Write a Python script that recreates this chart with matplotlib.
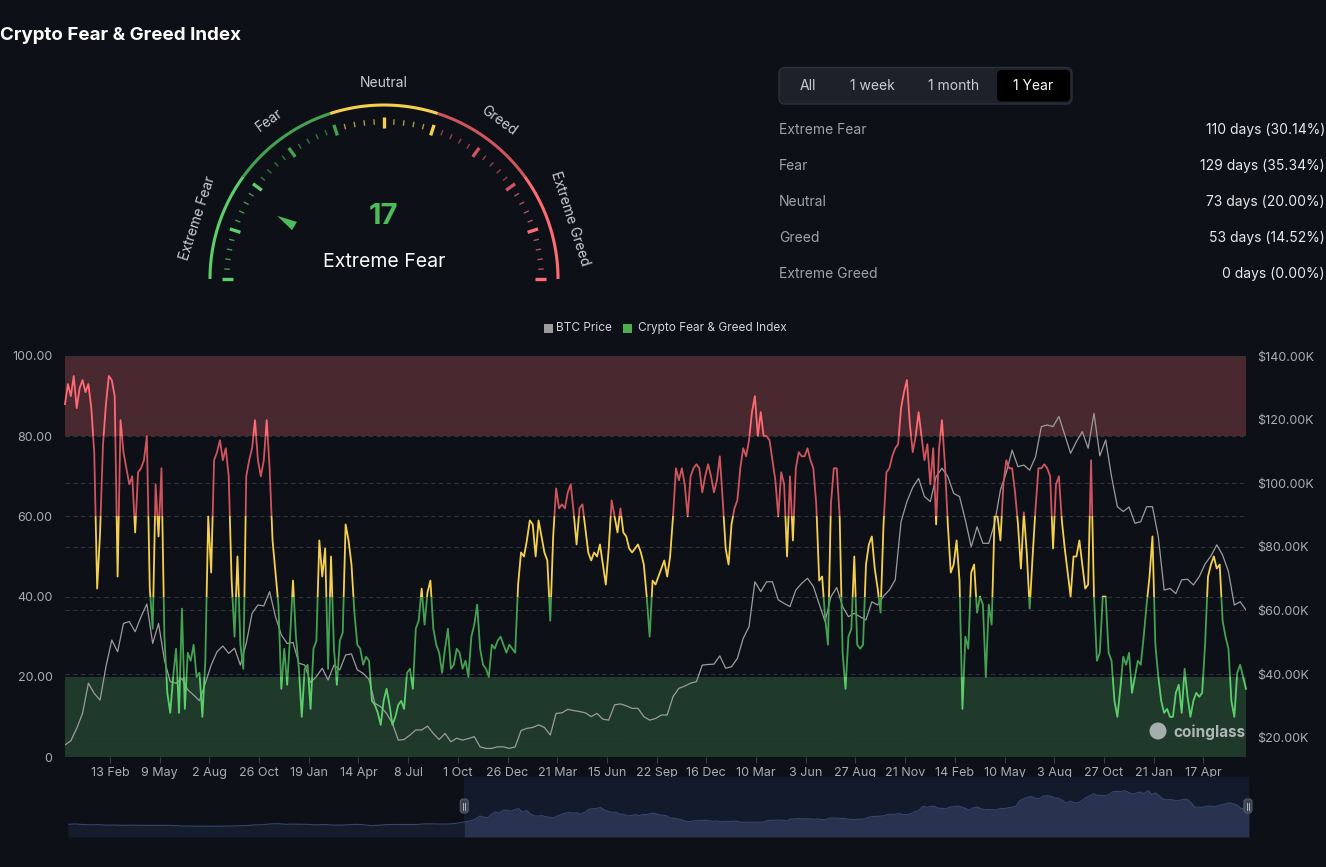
import numpy as np
import matplotlib.pyplot as plt
from matplotlib.patches import FancyBboxPatch, Rectangle, Polygon, Circle

plt.rcParams['font.family'] = ['Inter', 'DejaVu Sans']

BG = '#0d1017'

# ---- values ----
# fear & greed index, one point every 5 days from the left edge of the plot
fng_index = [88, 93, 90, 95, 87, 92, 94, 91, 93, 87, 76, 42, 56, 78, 88, 95, 94, 90, 45, 84,
             76, 72, 68, 70, 56, 71, 72, 74, 80, 42, 32, 68, 55, 72, 30, 16, 11, 20, 27, 11,
             37, 12, 26, 24, 28, 20, 21, 10, 24, 60, 46, 74, 76, 79, 74, 77, 70, 44, 30, 50,
             28, 22, 70, 74, 77, 84, 74,
             70, 74, 84, 72, 54, 46, 38, 17, 27, 18, 30, 44, 30, 22, 10, 22, 23, 12, 27, 29,
             54, 45, 52, 22, 50, 27, 18, 29, 31, 58, 54, 48, 36, 28, 27, 23, 25, 24, 14, 13,
             11, 8, 14, 17, 13, 8, 10, 13, 14, 12, 21, 22, 17, 32, 34, 42, 33, 41, 44, 32,
             28, 26, 21, 27, 32, 22, 23,
             27, 26, 22, 24, 20, 30, 33, 38, 27, 23, 22, 20, 28, 27, 29, 30, 28, 26, 28, 27,
             26, 43, 51, 50, 54, 59, 58, 50, 59, 55, 51, 49, 34, 55, 67, 62, 63, 62, 66, 68,
             61, 53, 62, 63, 57, 51, 49, 51, 50, 53, 48, 43, 52, 64, 60, 56, 62, 56, 55, 52,
             51, 52, 53, 51, 48, 40, 30,
             44, 43, 45, 47, 49, 45, 50, 60, 72, 69, 72, 68, 60, 70, 72, 73, 72, 66, 70, 73,
             70, 66, 69, 75, 64, 52, 48, 58, 62, 64, 72, 77, 75, 79, 86, 90, 80, 86, 80, 80,
             79, 74, 69, 60, 71, 68, 50, 70, 54, 72, 76, 75, 75, 77, 74, 72, 63, 44, 45, 35,
             28, 63, 72, 72, 60, 26, 17,
             30, 32, 50, 28, 27, 28, 48, 53, 55, 47, 42, 36, 58, 71, 72, 75, 77, 78, 87, 91,
             94, 83, 76, 80, 86, 80, 74, 78, 68, 77, 58, 77, 84, 73, 58, 46, 48, 54, 44, 12,
             30, 27, 46, 48, 36, 40, 38, 20, 38, 33, 60, 60, 54, 68, 74, 72, 72, 66, 58, 47,
             61, 51, 37, 50, 62, 72, 72,
             73, 72, 70, 52, 68, 70, 59, 52, 46, 40, 50, 50, 54, 48, 42, 43, 74, 40, 24, 26,
             40, 40, 26, 24, 14, 10, 17, 25, 23, 26, 16, 20, 24, 23, 30, 38, 45, 55, 28, 20,
             14, 11, 12, 10, 10, 16, 18, 11, 22, 15, 10, 14, 16, 15, 16, 28, 45, 48, 50, 47,
             48, 34, 30, 27, 14, 10, 21, 23, 20, 17]

# BTC price in $K, one point every 10 days over the same span
btc_price_k = [17.7, 19.0, 22.9, 27.6, 37.1, 33.9, 31.8, 42.3, 50.7, 47.0,
               55.9, 56.5, 53.3, 58.0, 62.0, 49.6, 55.9, 44.4, 37.6, 37.1,
               38.6, 35.0, 33.4, 31.6, 37.1, 42.8, 47.0, 48.8, 46.5, 48.1,
               42.8, 49.6, 59.1, 61.7,
               61.4, 65.9, 58.0, 52.3, 49.6, 49.9, 43.4, 42.8, 37.3, 39.2,
               41.8, 38.1, 42.8, 41.3, 46.0, 46.3, 41.3, 40.2, 38.3, 30.8,
               29.7, 27.6, 24.5, 19.2, 19.4, 20.8, 22.4, 22.4, 23.6, 21.3,
               19.4, 21.3, 18.7,
               19.8, 19.2, 19.7, 20.3, 17.1, 16.6, 16.6, 17.1, 17.1, 16.6,
               17.1, 22.2, 22.9, 23.2, 24.0, 23.2, 20.8, 27.6, 27.8, 28.9,
               28.5, 28.2, 27.8, 26.6, 27.6, 25.8, 25.5, 30.3, 30.6, 30.0,
               29.2, 29.2, 26.6, 25.5,
               26.0, 27.1, 27.1, 32.9, 35.5, 36.2, 37.1, 37.6, 42.8, 43.0,
               43.1, 45.7, 41.8, 42.3, 44.9, 51.2, 54.9, 69.0, 65.9, 69.0,
               69.0, 63.3, 62.2, 61.2, 66.4, 68.5, 70.1, 67.5, 62.0, 56.5,
               64.3, 67.2, 61.2,
               58.0, 59.1, 58.0, 57.0, 62.7, 61.7, 64.5, 66.4, 69.6, 87.9,
               94.2, 98.7, 101.5, 95.8, 94.2, 102.1, 104.7, 102.1, 96.8, 95.8,
               88.4, 80.0, 86.3, 81.1, 81.1, 87.4, 97.9, 103.3, 110.4, 105.2,
               105.7, 104.1, 108.3,
               117.8, 118.3, 117.8, 121.0, 115.2, 109.4, 113.1, 116.2, 111.0, 122.0,
               108.6, 113.6, 102.1, 92.6, 91.1, 92.5, 87.4, 87.9, 92.6, 92.6,
               83.2, 66.4, 66.9, 65.3, 69.6, 69.8, 68.0, 70.6, 74.6, 77.1,
               80.6, 77.4, 72.2, 61.7, 62.7, 60.1]

# older BTC history, only visible in the zoom slider preview (20-day steps)
btc_history_k = [10, 11, 9, 8, 9, 7, 7.5, 6.5, 7, 6.5, 6.5, 6.5, 6.3, 6.4, 5.5, 4, 3.8, 3.6,
                 3.7, 3.5, 3.9, 4.1, 5.2, 5.8, 8, 8.5, 11, 12, 10, 10.5, 10, 9.5, 8.2, 9.2, 7.5, 7.2,
                 8.5, 9.8, 8.6, 5.5, 6.8, 8.8, 9.5, 9.3, 9.2, 9.6, 11.5, 11.3, 10.7, 11.0, 13.0]

x_tick_labels = ['13 Feb', '9 May', '2 Aug', '26 Oct', '19 Jan', '14 Apr', '8 Jul', '1 Oct',
                 '26 Dec', '21 Mar', '15 Jun', '22 Sep', '16 Dec', '10 Mar', '3 Jun', '27 Aug',
                 '21 Nov', '14 Feb', '10 May', '3 Aug', '27 Oct', '21 Jan', '17 Apr']

zone_names = ['Extreme Fear', 'Fear', 'Neutral', 'Greed', 'Extreme Greed']
zone_days = [110, 129, 73, 53, 0]
zone_pcts = [30.14, 35.34, 20.00, 14.52, 0.00]
current_value = 17
current_label = 'Extreme Fear'
range_buttons = ['All', '1 week', '1 month', '1 Year']

zone_edges = [0, 20, 40, 60, 80, 100]
zone_colors = ['#5ccf6b', '#45a152', '#f5d04c', '#d0545e', '#ff6b73']


def zone_of(v):
    return min(int(np.searchsorted(zone_edges[1:-1], v, side='left')), 4)


W, H = 1326, 867
fig = plt.figure(figsize=(W / 100, H / 100), dpi=100, facecolor=BG)

# ---- main chart ----
rect = [65 / W, (H - 757) / H, 1181 / W, 401 / H]
ax = fig.add_axes(rect)
ax.set_facecolor(BG)
fng_x = np.arange(len(fng_index)) * 5
btc_x = np.arange(len(btc_price_k)) * 10
xmax = fng_x[-1]
ax.set_xlim(0, xmax)
ax.set_ylim(0, 100)
ax.axhspan(80, 100, color='#4a282f', lw=0, zorder=0)
ax.axhspan(0, 20, color='#1f3a2b', lw=0, zorder=0)
for v in [20, 40, 60, 80, 100]:
    ax.axhline(v, color='#30343d', lw=0.8, ls=(0, (4, 3)), zorder=1)
ax.set_yticks([0, 20, 40, 60, 80, 100])
ax.set_yticklabels([f'{v:.2f}' if v else '0' for v in [0, 20, 40, 60, 80, 100]])
ticks = 77 + 85 * np.arange(len(x_tick_labels))
ax.set_xticks(ticks)
ax.set_xticklabels(x_tick_labels)
ax.tick_params(axis='y', length=0, labelcolor='#a9adb4', labelsize=9, pad=9)
ax.tick_params(axis='x', length=4, color='#3a3f47', labelcolor='#a9adb4', labelsize=9, pad=3)
for s in ax.spines.values():
    s.set_visible(False)

ax2 = ax.twinx()
ax2.set_ylim(13.9, 140)
btc_ticks = [20, 40, 60, 80, 100, 120, 140]
ax2.set_yticks(btc_ticks)
ax2.set_yticklabels([f'${v:.2f}K' for v in btc_ticks])
ax2.tick_params(axis='y', length=0, labelcolor='#a9adb4', labelsize=9, pad=8)
for v in btc_ticks:
    ax2.axhline(v, color='#30343d', lw=0.8, ls=(0, (4, 3)), zorder=1)
ax2.plot(btc_x, btc_price_k, color='#9c9c9c', lw=0.9, zorder=2)
for s in ax2.spines.values():
    s.set_visible(False)

ax3 = ax.twinx()
ax3.set_ylim(0, 100)
ax3.set_yticks([])
for s in ax3.spines.values():
    s.set_visible(False)
for k in range(5):
    lo = zone_edges[k] if k > 0 else -2
    hi = zone_edges[k + 1] if k < 4 else 102
    ln, = ax3.plot(fng_x, fng_index, color=zone_colors[k], lw=1.3)
    clip = Rectangle((-50, lo), xmax + 100, hi - lo, transform=ax3.transData)
    ln.set_clip_path(clip)

# ---- zoom slider preview ----
nav = fig.add_axes([68 / W, (H - 837) / H, 1181 / W, 60 / H])
win_start = len(btc_history_k) * 20
nav_x = np.concatenate([np.arange(len(btc_history_k)) * 20, win_start + btc_x])
nav_vals = np.array(btc_history_k + btc_price_k)
nav.set_xlim(0, nav_x[-1])
nav.set_ylim(-32, 166)
nav.axvspan(win_start, nav_x[-1], color='#131a2b', lw=0)
out = nav_x <= win_start
inside = nav_x >= win_start
nav.fill_between(nav_x[out], -32, nav_vals[out], color='#151c2c', lw=0)
nav.fill_between(nav_x[inside], -32, nav_vals[inside], color='#29334f', lw=0)
nav.plot(nav_x, nav_vals, color='#35466c', lw=0.8)
nav.axis('off')

# ---- overlay in pixel coordinates ----
ov = fig.add_axes([0, 0, 1, 1])
ov.set_xlim(0, W)
ov.set_ylim(H, 0)
ov.axis('off')

ov.text(0, 35, 'Crypto Fear & Greed Index', fontsize=13.5, fontweight='bold', color='white',
        ha='left', va='center')

# gauge
cx, cy, R = 384, 279, 174


def val_angle(v):
    return np.radians(180 - 1.8 * np.asarray(v, dtype=float))


for k in range(5):
    a = val_angle(np.linspace(zone_edges[k], zone_edges[k + 1], 40))
    ov.plot(cx + R * np.cos(a), cy - R * np.sin(a), color=zone_colors[k], lw=2.2,
            solid_capstyle='butt')
for v in range(0, 101, 2):
    major = v % 10 == 0
    r0, r1 = (151, 162) if major else (154.5, 160)
    a = val_angle(v)
    ov.plot([cx + r0 * np.cos(a), cx + r1 * np.cos(a)], [cy - r0 * np.sin(a), cy - r1 * np.sin(a)],
            color=zone_colors[zone_of(v)], lw=2.4 if major else 1.0, alpha=1 if major else 0.7,
            solid_capstyle='butt')
for k, name in enumerate(zone_names):
    a = val_angle((zone_edges[k] + zone_edges[k + 1]) / 2)
    ov.text(cx + 196 * np.cos(a), cy - 196 * np.sin(a), name, rotation=np.degrees(a) - 90,
            rotation_mode='anchor', ha='center', va='center', fontsize=10, color='#c9cdd3')

ptr_color = '#4cbb5a'
a = val_angle(current_value)
d = np.array([np.cos(a), -np.sin(a)])
p = np.array([np.sin(a), np.cos(a)])
c = np.array([cx, cy])
tri = [c + 124 * d, c + 104 * d + 4.8 * p, c + 104 * d - 4.8 * p]
ov.add_patch(Polygon(tri, closed=True, color=ptr_color, lw=0))
ov.text(cx, 217, str(current_value), fontsize=21, fontweight='bold', color=ptr_color,
        ha='center', va='center')
ov.text(cx, 262, current_label, fontsize=14, color='white', ha='center', va='center')

# range selector
ov.add_patch(FancyBboxPatch((779, 67.5), 293, 36.5, boxstyle='round,pad=0,rounding_size=6',
                            fc='#1d222a', ec='#2c313a', lw=1))
ov.add_patch(FancyBboxPatch((997, 70), 73, 31.5, boxstyle='round,pad=0,rounding_size=5',
                            fc='#000000', ec='none'))
for lbl, bx in zip(range_buttons, [808, 872, 954, 1033.5]):
    ov.text(bx, 86, lbl, fontsize=10, color='white' if lbl == '1 Year' else '#c9cdd3',
            ha='center', va='center')

# stats table
for i, (name, dd, pc) in enumerate(zip(zone_names, zone_days, zone_pcts)):
    y = 130 + 36 * i
    ov.text(779, y, name, fontsize=10, color='#9ca3ab', ha='left', va='center')
    ov.text(1325, y, f'{dd} days ({pc:.2f}%)', fontsize=10, color='#e6e8eb', ha='right', va='center')

# legend
ov.add_patch(Rectangle((544, 323.5), 9, 9, color='#9c9c9c', lw=0))
ov.text(556, 328, 'BTC Price', fontsize=8.5, color='#d0d3d8', ha='left', va='center')
ov.add_patch(Rectangle((623, 323.5), 9, 9, color='#4caf50', lw=0))
ov.text(638, 328, 'Crypto Fear & Greed Index', fontsize=8.5, color='#d0d3d8', ha='left', va='center')

# watermark
ov.add_patch(Circle((1158, 731), 8.5, color='#c9cccf', alpha=0.8, lw=0))
ov.text(1246, 732, 'coinglass', fontsize=11, fontweight='bold', color='#c9cccf', alpha=0.85,
        ha='right', va='center')

# slider handles
hx0 = 68 + 1181 * win_start / nav_x[-1]
for hx in [hx0, 1248]:
    ov.add_patch(FancyBboxPatch((hx - 4, 799), 8, 14, boxstyle='round,pad=0,rounding_size=3',
                                fc='#3d4250', ec='#565b68', lw=0.8))
    ov.plot([hx - 1.2, hx - 1.2], [802.5, 809.5], color='#b0b4bc', lw=0.7)
    ov.plot([hx + 1.2, hx + 1.2], [802.5, 809.5], color='#b0b4bc', lw=0.7)

fig.savefig('out.png', dpi=100, facecolor=BG)
